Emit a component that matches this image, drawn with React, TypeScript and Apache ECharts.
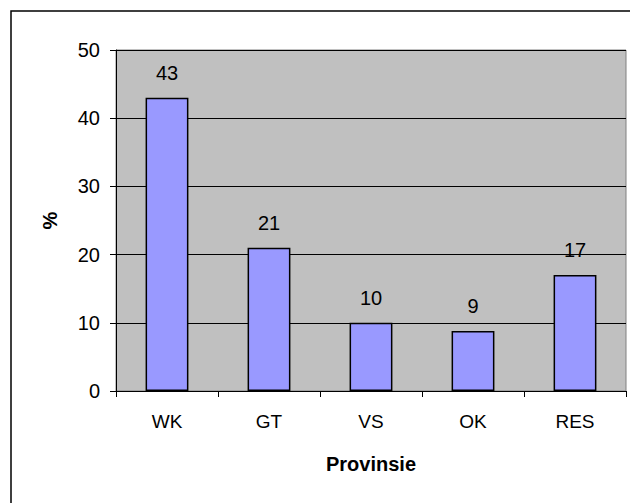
import React, { useEffect, useRef } from "react";
import * as echarts from "echarts";

const categories = ["WK", "GT", "VS", "OK", "RES"];
const values = [43, 21, 10, 8.8, 17];
const yTicks = { min: 0, max: 50, interval: 10 };
const xTitle = "Provinsie";
const yTitle = "%";

export default function App() {
  const ref = useRef<HTMLDivElement>(null);
  useEffect(() => {
    if (!ref.current) return;
    const chart = echarts.init(ref.current, null, { renderer: "svg" });
    const font = "'Liberation Sans', Arial, sans-serif";
    chart.setOption({
      animation: false,
      backgroundColor: "#ffffff",
      textStyle: { fontFamily: font },
      graphic: [
        {
          type: "rect",
          shape: { x: 11, y: 11, width: 700, height: 600 },
          style: { fill: "none", stroke: "#000000", lineWidth: 1.5 },
          z: -1,
        },
      ],
      grid: {
        left: 116,
        top: 50,
        right: 4,
        bottom: 112,
        show: true,
        backgroundColor: "#c0c0c0",
        borderColor: "#808080",
        borderWidth: 1,
      },
      xAxis: {
        type: "category",
        data: categories,
        name: xTitle,
        nameLocation: "middle",
        nameGap: 63,
        nameTextStyle: { fontSize: 20, fontWeight: "bold", color: "#000", fontFamily: font },
        axisLine: { lineStyle: { color: "#000", width: 1 } },
        axisTick: { show: true, length: 6, lineStyle: { color: "#000" } },
        axisLabel: { fontSize: 19, color: "#000", margin: 21, fontFamily: font },
        splitLine: { show: false },
      },
      yAxis: {
        type: "value",
        min: yTicks.min,
        max: yTicks.max,
        interval: yTicks.interval,
        name: yTitle,
        nameLocation: "middle",
        nameGap: 56,
        nameRotate: 90,
        nameTextStyle: { fontSize: 20, fontWeight: "bold", color: "#000", fontFamily: font },
        axisLine: { show: true, lineStyle: { color: "#000", width: 1 } },
        axisTick: { show: true, length: 6, lineStyle: { color: "#000" } },
        axisLabel: { fontSize: 20, color: "#000", margin: 16, fontFamily: font },
        splitLine: { show: true, lineStyle: { color: "#000", width: 1 } },
      },
      series: [
        {
          type: "bar",
          data: values,
          barWidth: "42%",
          itemStyle: { color: "#9999ff", borderColor: "#000", borderWidth: 1.5 },
          label: {
            show: true,
            position: "top",
            distance: 15,
            fontSize: 20,
            color: "#000",
            fontFamily: font,
            formatter: (p: any) => String(Math.round(p.value)),
          },
        },
      ],
    });
    return () => chart.dispose();
  }, []);
  return (
    <div
      ref={ref}
      style={{ position: "absolute", left: 0, top: 0, width: 630, height: 503 }}
    />
  );
}
